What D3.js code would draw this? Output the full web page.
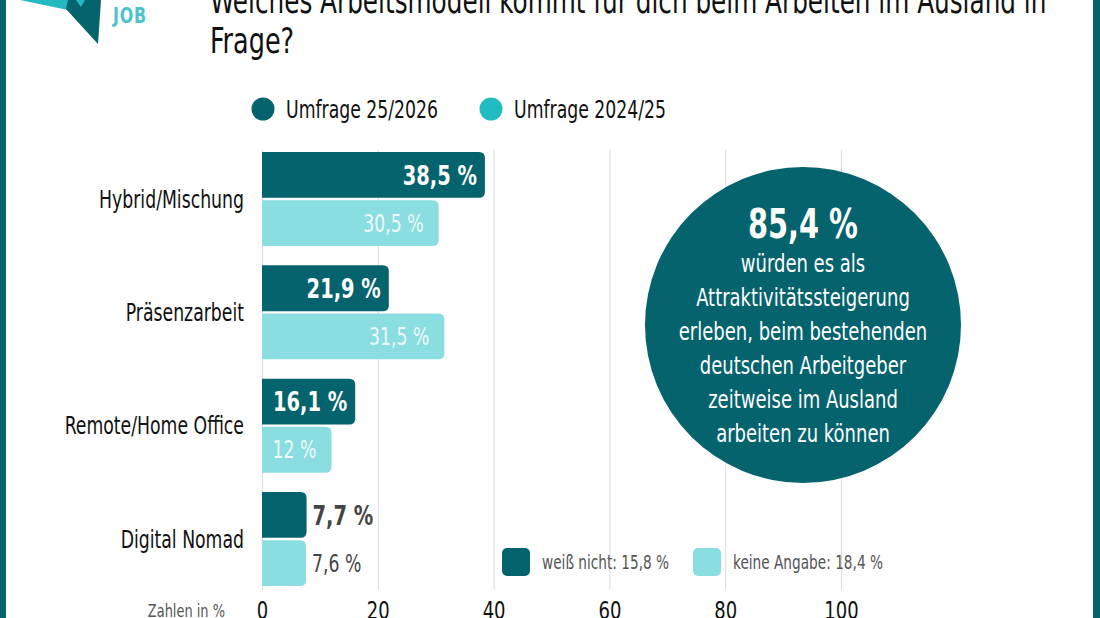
<!DOCTYPE html>
<html lang="de">
<head>
<meta charset="utf-8">
<title>Arbeitsmodell im Ausland</title>
<script src="https://d3js.org/d3.v7.min.js"></script>
<style>
  html, body { margin: 0; padding: 0; background: #fff; }
  svg text { font-family: "Liberation Sans Narrow", "DejaVu Sans Condensed", "Roboto Condensed", sans-serif; }
</style>
</head>
<body>
<div id="main"></div>
<script>
const categories = ['Hybrid/Mischung', 'Präsenzarbeit', 'Remote/Home Office', 'Digital Nomad'];
const seriesNames = ['Umfrage 25/2026', 'Umfrage 2024/25'];
const values2526 = [38.5, 21.9, 16.1, 7.7];
const values2425 = [30.5, 31.5, 12, 7.6];
const xTicks = [0, 20, 40, 60, 80, 100];
const extraLabels = ['weiß nicht: 15,8 %', 'keine Angabe: 18,4 %'];
const highlightValue = '85,4 %';
const highlightLines = ['würden es als', 'Attraktivitätssteigerung', 'erleben, beim bestehenden',
                        'deutschen Arbeitgeber', 'zeitweise im Ausland', 'arbeiten zu können'];
const titleLines = ['Welches Arbeitsmodell kommt für dich beim Arbeiten im Ausland in', 'Frage?'];

const width = 1100;
const height = 618;
const dark = '#04636d';
const light = '#8adde0';
const legendLight = '#1fbdc2';
const grey = '#555';

const svg = d3.select('#main')
    .append('svg')
    .attr('width', width)
    .attr('height', height);

// the original uses a narrow typeface, squeeze the installed one to match
const condense = (sel, f) => sel.each(function () {
    const len = this.getComputedTextLength();
    d3.select(this).attr('textLength', len * f).attr('lengthAdjust', 'spacingAndGlyphs');
});

// frame
svg.append('rect').attr('x', 0).attr('y', 0).attr('width', 6).attr('height', height).attr('fill', dark);
svg.append('rect').attr('x', 1093).attr('y', 0).attr('width', 7).attr('height', height).attr('fill', dark);

// logo (cut off at the top)
svg.append('polygon').attr('points', '20,0 84,0 68,10').attr('fill', '#22b9c1');
svg.append('polygon').attr('points', '68,0 101,0 98,44 66,9').attr('fill', '#05636d');
svg.append('polygon').attr('points', '76,0 85,0 81,7').attr('fill', '#22b9c1');
svg.append('text').text('JOB')
    .attr('x', 113).attr('y', 23)
    .attr('font-size', 22).attr('font-weight', 'bold')
    .attr('letter-spacing', 1)
    .attr('fill', '#4cc4ca');

// title
const titleText = svg.append('g').attr('class', 'title').selectAll('text')
    .data(titleLines)
    .join('text')
    .attr('x', 210)
    .attr('y', (d, i) => 13 + i * 40)
    .attr('font-size', 35)
    .attr('fill', '#111')
    .text(d => d);

// legend
const legendX = [263, 491];
const legendColors = [dark, legendLight];
seriesNames.forEach((name, i) => {
    svg.append('circle')
        .attr('cx', legendX[i]).attr('cy', 109).attr('r', 11.5)
        .attr('fill', legendColors[i]);
    svg.append('text')
        .attr('x', legendX[i] + 23).attr('y', 118)
        .attr('font-size', 24).attr('fill', '#111')
        .text(name);
});

// scales
const xScale = d3.scaleLinear().domain([0, 100]).range([262, 841]);
const yScale = d3.scaleBand().domain(categories).range([152, 586]).paddingInner(0.17).paddingOuter(0);
const subScale = d3.scaleBand().domain([0, 1]).range([0, yScale.bandwidth()]).paddingInner(0.05);

// grid lines
const grid = svg.append('g')
    .attr('transform', 'translate(0, 590)')
    .call(d3.axisBottom(xScale).tickValues(xTicks).tickSize(-440).tickFormat(''));
grid.select('.domain').remove();
grid.selectAll('line').attr('stroke', '#dcdcdc').attr('stroke-width', 1);

// x axis labels
const xAxis = svg.append('g')
    .attr('transform', 'translate(0, 600)')
    .call(d3.axisBottom(xScale).tickValues(xTicks).tickSize(0).tickPadding(0));
xAxis.select('.domain').remove();
xAxis.selectAll('text')
    .attr('dy', null)
    .attr('y', 19)
    .attr('font-size', 25)
    .attr('font-family', null)
    .attr('fill', '#111');

svg.append('text')
    .attr('x', 225).attr('y', 617)
    .attr('text-anchor', 'end')
    .attr('font-size', 18).attr('fill', grey)
    .text('Zahlen in %');

const fmt = v => String(v).replace('.', ',') + ' %';

const barPath = (x0, y0, w, h, r) => {
    r = Math.min(r, w / 2, h / 2);
    return `M${x0},${y0}H${x0 + w - r}Q${x0 + w},${y0} ${x0 + w},${y0 + r}` +
           `V${y0 + h - r}Q${x0 + w},${y0 + h} ${x0 + w - r},${y0 + h}H${x0}Z`;
};

const rows = categories.map((c, i) => ({ cat: c, values: [values2526[i], values2425[i]] }));
const barColors = [dark, light];

const group = svg.append('g').selectAll('g')
    .data(rows)
    .join('g')
    .attr('transform', d => `translate(0, ${yScale(d.cat)})`);

group.selectAll('path')
    .data(d => d.values.map((v, k) => ({ v, k })))
    .join('path')
    .attr('d', d => barPath(xScale(0), subScale(d.k), xScale(d.v) - xScale(0), subScale.bandwidth(), 6))
    .attr('fill', d => barColors[d.k]);

group.selectAll('text.val')
    .data(d => d.values.map((v, k) => ({ v, k })))
    .join('text')
    .attr('class', 'val')
    .attr('x', d => d.v < 10 ? xScale(d.v) + 6 : xScale(d.v) - (d.k === 0 ? 8 : 15))
    .attr('y', d => subScale(d.k) + subScale.bandwidth() / 2)
    .attr('dy', '0.36em')
    .attr('text-anchor', d => d.v < 10 ? 'start' : 'end')
    .attr('font-size', d => d.k === 0 ? 27 : 24)
    .attr('font-weight', d => d.k === 0 ? 'bold' : 'normal')
    .attr('fill', d => d.v < 10 ? '#444' : (d.k === 0 ? '#fff' : '#eefafa'))
    .text(d => fmt(d.v));

group.append('text')
    .attr('x', 244)
    .attr('y', yScale.bandwidth() / 2)
    .attr('dy', '0.36em')
    .attr('text-anchor', 'end')
    .attr('font-size', 24)
    .attr('fill', '#111')
    .text(d => d.cat);

// highlight circle
const cx = 803, cy = 325;
svg.append('circle').attr('cx', cx).attr('cy', cy).attr('r', 158).attr('fill', dark);
svg.append('text')
    .attr('x', cx).attr('y', 238)
    .attr('text-anchor', 'middle')
    .attr('font-size', 40).attr('font-weight', 'bold')
    .attr('fill', '#fff')
    .text(highlightValue);
svg.append('g').selectAll('text')
    .data(highlightLines)
    .join('text')
    .attr('x', cx)
    .attr('y', (d, i) => 272 + i * 34)
    .attr('text-anchor', 'middle')
    .attr('font-size', 25)
    .attr('fill', '#fff')
    .text(d => d);

// extra answers legend
const extraX = [502, 693];
extraLabels.forEach((label, i) => {
    svg.append('rect')
        .attr('x', extraX[i]).attr('y', 548)
        .attr('width', 28).attr('height', 28).attr('rx', 5)
        .attr('fill', barColors[i]);
    svg.append('text')
        .attr('x', extraX[i] + 40).attr('y', 562)
        .attr('dy', '0.36em')
        .attr('font-size', 19).attr('fill', grey)
        .text(label);
});

condense(svg.selectAll('text').filter(function () { return !this.parentNode.classList.contains('title'); }), 0.8);
condense(titleText.filter((d, i) => i === 0), 0.785);
condense(titleText.filter((d, i) => i === 1), 0.81);
</script>
</body>
</html>
